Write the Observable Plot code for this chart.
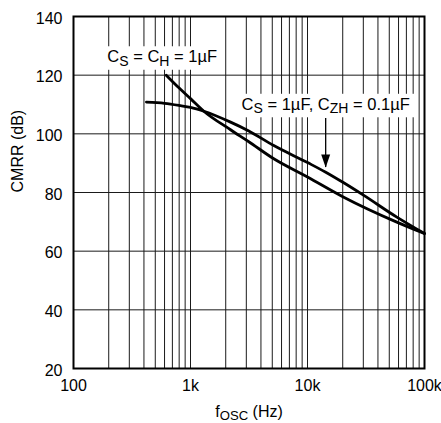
<!DOCTYPE html>
<html>
<head>
<meta charset="utf-8">
<script src="https://cdn.jsdelivr.net/npm/d3@7"></script>
<script src="https://cdn.jsdelivr.net/npm/@observablehq/plot@0.6"></script>
<style>
  html, body { margin: 0; padding: 0; background: white; }
  #chart { width: 441px; height: 423px; }
</style>
</head>
<body>
<div id="chart"></div>
<script>
// ---- data ----
const freqA = [620, 800, 1000, 1300, 2200, 3150, 5150, 10000, 20400, 58000, 100000];
const dbA   = [120, 115.6, 112, 107.7, 101.4, 97.3, 91.5, 85.3, 78.4, 69.9, 66];
const freqB = [420, 600, 820, 1000, 1300, 2200, 3150, 5150, 10000, 14200, 20400, 30300, 58000, 100000];
const dbB   = [110.8, 110.4, 109.6, 109.0, 107.7, 104.0, 101.0, 96.0, 90.2, 87.0, 83.3, 79.0, 71.6, 66];

const xTicks = [100, 1000, 10000, 100000];
const xTickLabels = ["100", "1k", "10k", "100k"];
const yTicks = [20, 40, 60, 80, 100, 120, 140];
const gridFreqs = [100, 200, 300, 400, 500, 600, 700, 800, 900,
                   1000, 2000, 3000, 4000, 5000, 6000, 7000, 8000, 9000,
                   10000, 20000, 30000, 40000, 50000, 60000, 70000, 80000, 90000, 100000];

const labelTexts = ["C_S = C_H = 1µF", "C_S = 1µF, C_ZH = 0.1µF"];
const labelFreqs = [573, 14300];
const labelDbs   = [126.2, 110];

const arrowFreq = [14300];
const arrowFromDb = [105.2];
const arrowToDb = [88.5];

const xLabelText = "f_OSC (Hz)";
const yLabelText = "CMRR (dB)";

// ---- tables built from the arrays ----
const curveA = freqA.map((f, i) => ({f, db: dbA[i]}));
const curveB = freqB.map((f, i) => ({f, db: dbB[i]}));
const labels = labelTexts.map((t, i) => ({t, f: labelFreqs[i], db: labelDbs[i]}));
const arrows = arrowFreq.map((f, i) => ({f, y1: arrowFromDb[i], y2: arrowToDb[i]}));
const tickLabelMap = new Map(xTicks.map((t, i) => [t, xTickLabels[i]]));

const plot = Plot.plot({
  width: 441,
  height: 423,
  marginLeft: 73,
  marginRight: 17,
  marginTop: 16,
  marginBottom: 55,
  style: {fontFamily: "'Liberation Sans', Arial, Helvetica, sans-serif", fontSize: "16px", background: "white", color: "black"},
  x: {type: "log", domain: [100, 100000]},
  y: {domain: [20, 140]},
  marks: [
    Plot.ruleX(gridFreqs, {stroke: "#1a1a1a", strokeWidth: 1}),
    Plot.ruleY(yTicks, {stroke: "#1a1a1a", strokeWidth: 1}),
    Plot.text(labels, {x: "f", y: "db", text: "t", fontSize: 16.5, fill: "black", className: "rich-label"}),
    Plot.line(curveA, {x: "f", y: "db", stroke: "black", strokeWidth: 2.8, curve: "monotone-x"}),
    Plot.line(curveB, {x: "f", y: "db", stroke: "black", strokeWidth: 2.8, curve: "monotone-x"}),
    Plot.ruleX(arrows, {x: "f", y1: "y1", y2: "y2", stroke: "black", strokeWidth: 1.3}),
    Plot.vector(arrows, {x: "f", y: "y2", rotate: 180, length: 13, r: 4.5, shape: "spike", anchor: "end", fill: "black", stroke: "none"}),
    Plot.frame({stroke: "black", strokeWidth: 2}),
    Plot.axisX(xTicks, {tickFormat: d => tickLabelMap.get(d), tickSize: 0, tickPadding: 11, label: null}),
    Plot.axisY(yTicks, {tickSize: 0, tickPadding: 11, dy: 2, label: null}),
    Plot.text([yLabelText], {frameAnchor: "left", dx: -56, rotate: -90, fontSize: 16, fill: "black", text: d => d, className: "ylabel"}),
    Plot.text([xLabelText], {frameAnchor: "bottom", dy: 48, fontSize: 16, fill: "black", text: d => d, className: "rich-xlabel"})
  ]
});

document.getElementById("chart").appendChild(plot);

// Rebuild texts with subscripts as tspans
function richify(textEl, subScale, shift) {
  const raw = textEl.textContent;
  const parts = raw.split(/(_[A-Z]+)/).filter(s => s.length);
  while (textEl.firstChild) textEl.removeChild(textEl.firstChild);
  const ns = "http://www.w3.org/2000/svg";
  let shifted = false;
  for (const p of parts) {
    const ts = document.createElementNS(ns, "tspan");
    if (p.startsWith("_")) {
      ts.textContent = p.slice(1);
      ts.setAttribute("font-size", (subScale * 100) + "%");
      ts.setAttribute("dy", shift);
      shifted = true;
    } else {
      ts.textContent = p;
      if (shifted) { ts.setAttribute("dy", -shift); shifted = false; }
    }
    textEl.appendChild(ts);
  }
}

plot.querySelectorAll("g.rich-label text").forEach(t => {
  richify(t, 0.85, 3.5);
  const bb = t.getBBox();
  const rect = document.createElementNS("http://www.w3.org/2000/svg", "rect");
  rect.setAttribute("x", bb.x - 5);
  rect.setAttribute("y", bb.y - 1);
  rect.setAttribute("width", bb.width + 10);
  rect.setAttribute("height", bb.height + 2);
  rect.setAttribute("fill", "white");
  if (t.getAttribute("transform")) rect.setAttribute("transform", t.getAttribute("transform"));
  t.parentNode.insertBefore(rect, t);
});
plot.querySelectorAll("g.rich-xlabel text").forEach(t => richify(t, 0.82, 3.5));
plot.querySelectorAll("g.ylabel text").forEach(t => t.style.fontSize = "16px");
</script>
</body>
</html>
